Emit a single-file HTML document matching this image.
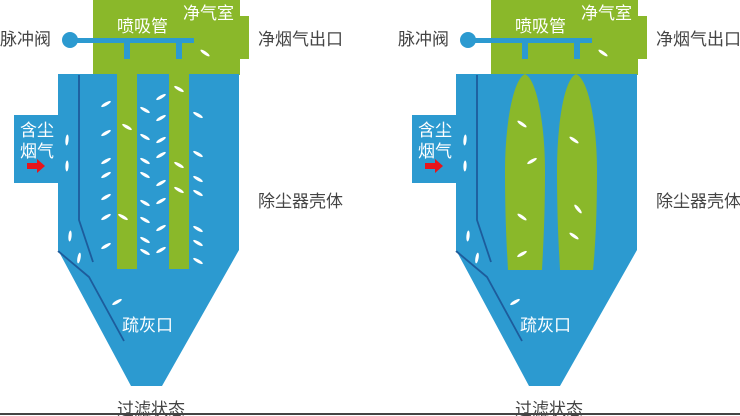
<!DOCTYPE html>
<html><head><meta charset="utf-8"><style>
html,body{margin:0;padding:0;background:#fff;}
svg{display:block;}
text{font-family:"Liberation Sans","Noto Sans CJK SC",sans-serif;}
</style></head><body>
<svg width="740" height="416" viewBox="0 0 740 416" xmlns="http://www.w3.org/2000/svg">
<defs>
<ellipse id="d" cx="0" cy="0" rx="5.5" ry="1.6" fill="#fff"/>
<g id="base">
  <path d="M93,0 H240 V16 H249 V59 H240 V75 H93 Z" fill="#8ab82a"/>
  <path d="M58,74 H239 V250 L162,386 H131 L58,250 V183 H14 V115 H58 Z" fill="#2c9ad0"/>
  <polyline points="79,75 79,220 93,262" fill="none" stroke="#1d5c9c" stroke-width="1.8"/>
  <polyline points="58,251 89,277 124,341" fill="none" stroke="#1d5c9c" stroke-width="1.8"/>
  <circle cx="70" cy="40" r="8" fill="#2c9ad0"/>
  <rect x="70" y="38" width="124" height="5" fill="#2c9ad0"/>
  <rect x="124" y="38" width="6" height="21" fill="#2c9ad0"/>
  <rect x="176" y="38" width="6" height="21" fill="#2c9ad0"/>
  <path d="M27,163 H37 V159 L45,166 L37,173 V169 H27 Z" fill="#e8141b"/>
  <text x="117" y="32" font-size="17" fill="#fff">喷吸管</text>
  <text x="183" y="19" font-size="17" fill="#fff">净气室</text>
  <text x="20" y="136" font-size="17" fill="#fff">含尘</text>
  <text x="20" y="157" font-size="17" fill="#fff">烟气</text>
  <text x="122" y="331" font-size="17" fill="#fff">疏灰口</text>
  <text x="258" y="45" font-size="17" fill="#444">净烟气出口</text>
  <text x="258" y="207" font-size="17" fill="#444">除尘器壳体</text>
  <text x="0" y="45" font-size="17" fill="#444">脉冲阀</text>
  <text x="117" y="415" font-size="17" fill="#444">过滤状态</text>
  <use href="#d" transform="translate(205,53) rotate(35)"/>
  <use href="#d" transform="translate(67,140) rotate(95)"/>
  <use href="#d" transform="translate(67,166) rotate(92)"/>
  <use href="#d" transform="translate(70,236) rotate(95)"/>
  <use href="#d" transform="translate(79,258) rotate(100)"/>
  <use href="#d" transform="translate(117,302) rotate(-30)"/>
</g>
</defs>

<g>
  <use href="#base"/>
  <rect x="117" y="74" width="20" height="195" fill="#8ab82a"/>
  <rect x="169" y="74" width="20" height="195" fill="#8ab82a"/>
  <g>
    <use href="#d" transform="translate(106,104) rotate(-30)"/>
    <use href="#d" transform="translate(106,133) rotate(-30)"/>
    <use href="#d" transform="translate(106,161) rotate(-30)"/>
    <use href="#d" transform="translate(106,175) rotate(-30)"/>
    <use href="#d" transform="translate(106,197) rotate(-30)"/>
    <use href="#d" transform="translate(106,217) rotate(-30)"/>
    <use href="#d" transform="translate(106,246) rotate(-30)"/>
    <use href="#d" transform="translate(145,110) rotate(30)"/>
    <use href="#d" transform="translate(145,137) rotate(30)"/>
    <use href="#d" transform="translate(145,161) rotate(30)"/>
    <use href="#d" transform="translate(145,175) rotate(30)"/>
    <use href="#d" transform="translate(145,203) rotate(30)"/>
    <use href="#d" transform="translate(145,220) rotate(30)"/>
    <use href="#d" transform="translate(145,240) rotate(30)"/>
    <use href="#d" transform="translate(145,252) rotate(30)"/>
    <use href="#d" transform="translate(161,97) rotate(-30)"/>
    <use href="#d" transform="translate(161,118) rotate(-30)"/>
    <use href="#d" transform="translate(161,140) rotate(-30)"/>
    <use href="#d" transform="translate(161,155) rotate(-30)"/>
    <use href="#d" transform="translate(161,183) rotate(-30)"/>
    <use href="#d" transform="translate(161,201) rotate(-30)"/>
    <use href="#d" transform="translate(161,228) rotate(-30)"/>
    <use href="#d" transform="translate(161,250) rotate(-30)"/>
    <use href="#d" transform="translate(198,115) rotate(30)"/>
    <use href="#d" transform="translate(198,154) rotate(30)"/>
    <use href="#d" transform="translate(198,179) rotate(30)"/>
    <use href="#d" transform="translate(198,193) rotate(30)"/>
    <use href="#d" transform="translate(198,229) rotate(30)"/>
    <use href="#d" transform="translate(198,243) rotate(30)"/>
    <use href="#d" transform="translate(198,261) rotate(30)"/>
    <use href="#d" transform="translate(127,127) rotate(30)"/>
    <use href="#d" transform="translate(123,217) rotate(30)"/>
    <use href="#d" transform="translate(179,89) rotate(30)"/>
    <use href="#d" transform="translate(179,165) rotate(30)"/>
    <use href="#d" transform="translate(179,190) rotate(30)"/>
  </g>
</g>

<g transform="translate(398,0)">
  <use href="#base"/>
  <path d="M127,74 C114,80 107,130 107,170 C107,220 109,250 110,270 H144 C145,250 147,220 147,170 C147,130 140,80 127,74 Z" fill="#8ab82a"/>
  <path d="M178,74 C165,80 159,130 159,170 C159,220 161,250 162,270 H195 C197,250 199,220 199,170 C199,130 192,80 178,74 Z" fill="#8ab82a"/>
  <use href="#d" transform="translate(124,124) rotate(35)"/>
  <use href="#d" transform="translate(134,161) rotate(-30)"/>
  <use href="#d" transform="translate(124,217) rotate(35)"/>
  <use href="#d" transform="translate(124,254) rotate(-30)"/>
  <use href="#d" transform="translate(176,140) rotate(35)"/>
  <use href="#d" transform="translate(180,209) rotate(50)"/>
  <use href="#d" transform="translate(176,236) rotate(35)"/>
</g>

<rect x="0" y="413" width="740" height="2" fill="#444"/>
</svg>
</body></html>
